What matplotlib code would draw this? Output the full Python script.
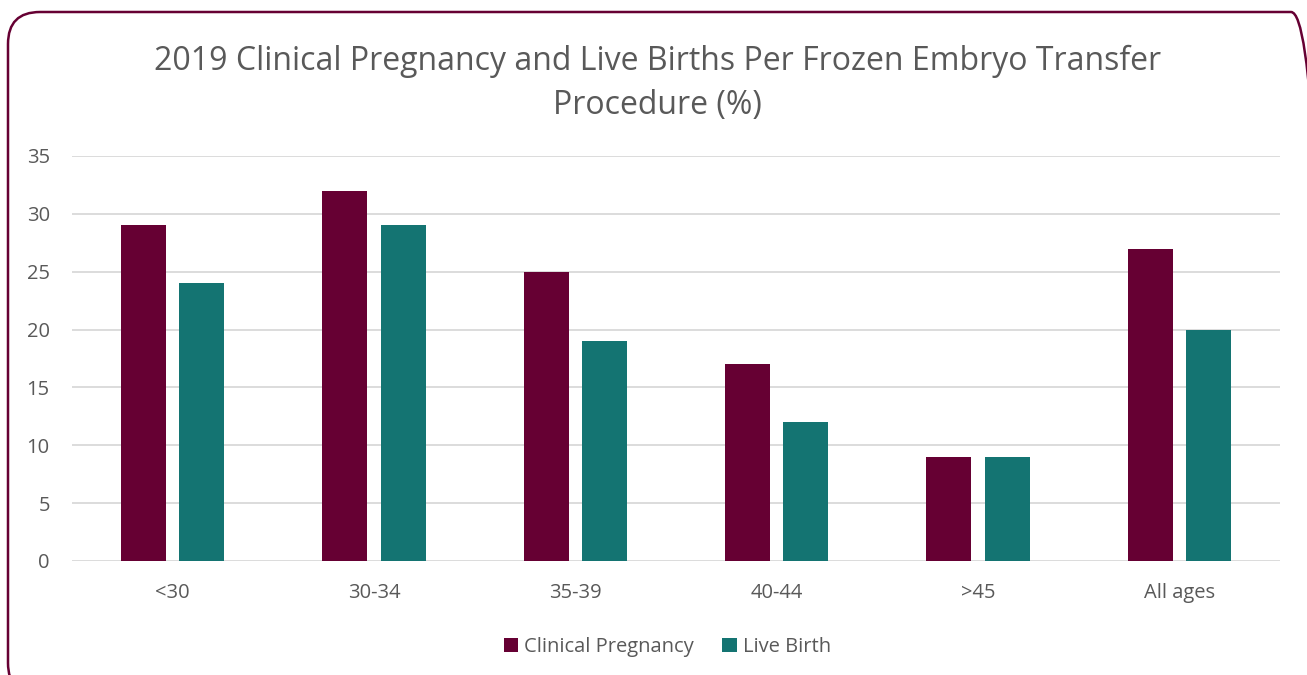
import matplotlib.pyplot as plt
import numpy as np
from matplotlib.patches import FancyBboxPatch
from matplotlib.transforms import IdentityTransform

plt.rcParams['font.family'] = ['Open Sans', 'DejaVu Sans']

# data
age_groups = ['<30', '30-34', '35-39', '40-44', '>45', 'All ages']
clinical_pregnancy = [29, 32, 25, 17, 9, 27]
live_birth = [24, 29, 19, 12, 9, 20]

maroon = '#660033'
teal = '#147472'
grey = '#595959'

fig = plt.figure(figsize=(13.07, 6.75), dpi=100)
ax = fig.add_axes([0.0551, 0.1689, 0.9242, 0.6000])

x = np.arange(len(age_groups))
w = 0.224
off = (w + 0.065) / 2
ax.bar(x - off, clinical_pregnancy, w, color=maroon, label='Clinical Pregnancy', zorder=3)
ax.bar(x + off, live_birth, w, color=teal, label='Live Birth', zorder=3)

ax.set_xlim(-0.5, len(age_groups) - 0.5)
ax.set_ylim(0, 35)
ax.set_yticks(range(0, 36, 5))
ax.set_xticks(x)
ax.set_xticklabels(age_groups)
ax.grid(axis='y', color='#D9D9D9', linewidth=1.3, zorder=0)
for s in ax.spines.values():
    s.set_visible(False)
ax.tick_params(length=0, labelsize=14.5, colors=grey)
ax.tick_params(axis='x', pad=16)
ax.tick_params(axis='y', pad=16)

fig.text(0.503, 0.876, '2019 Clinical Pregnancy and Live Births Per Frozen Embryo Transfer\nProcedure (%)',
         ha='center', va='center', fontsize=23, color=grey, linespacing=1.45)

ax.legend(loc='center', bbox_to_anchor=(0.493, -0.212), ncol=2, frameon=False,
          fontsize=14.5, labelcolor=grey, handlelength=0.7, handleheight=0.7,
          handletextpad=0.3, columnspacing=1.4)

border = FancyBboxPatch((8, -20), 1315, 683, boxstyle='round,pad=0,rounding_size=32',
                        transform=IdentityTransform(), fill=False, edgecolor=maroon, linewidth=1.8)
fig.patches.append(border)

fig.savefig('out.png', dpi=100)
